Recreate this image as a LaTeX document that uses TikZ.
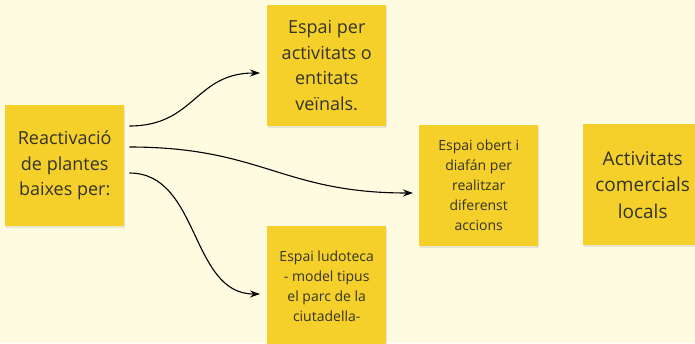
\documentclass[tikz,border=0pt]{standalone}
\usepackage{fontspec}
\setmainfont{Open Sans}
\usetikzlibrary{arrows.meta,calc,shadows}
\definecolor{bg}{RGB}{254,251,225}
\definecolor{note}{RGB}{245,208,42}
\definecolor{ink}{RGB}{51,51,40}
\begin{document}
\begin{tikzpicture}[x=1pt,y=-1pt,
  sticky/.style={fill=note, inner sep=0pt, align=center, text=ink, anchor=north west,
    minimum width=119pt, minimum height=121pt,
    drop shadow={shadow xshift=0.6pt, shadow yshift=-1.6pt, opacity=0.18}},
  big/.style={font=\fontsize{18}{25.5}\selectfont},
  small/.style={font=\fontsize{14}{20}\selectfont},
  conn/.style={line width=1.1pt, draw=black, -{Stealth[length=10pt,width=7pt]}}]
\fill[bg] (0,0) rectangle (695,343);
\useasboundingbox (0,0) rectangle (695,343);
\clip (0,0) rectangle (695,343);
\node[sticky,big] (a) at (5,105) {Reactivació\\de plantes\\baixes per:};
\node[sticky,big] (b) at (267,5) {Espai per\\activitats o\\entitats\\veïnals.};
\node[sticky,small] (c) at (419,125) {Espai obert i\\diafán per\\realitzar\\diferenst\\accions};
\node[sticky,font=\fontsize{19}{26.5}\selectfont] (d) at (583,124) {Activitats\\comercials\\locals};
\node[sticky,small] (e) at (267,226) {Espai ludoteca\\- model tipus\\el parc de la\\ciutadella-};
\draw[conn, shorten >=7pt] ($(a.north east)+(5,21)$) .. controls (195,126) and (195,73) .. ($(b.north west)+(0,68)$);
\draw[conn, shorten >=6pt] ($(a.north east)+(5,42)$) .. controls (262,147) and (282,193) .. ($(c.north west)+(0,68)$);
\draw[conn, shorten >=7pt] ($(a.north east)+(5,68)$) .. controls (200,173) and (190,294) .. ($(e.north west)+(0,68)$);
\end{tikzpicture}
\end{document}
